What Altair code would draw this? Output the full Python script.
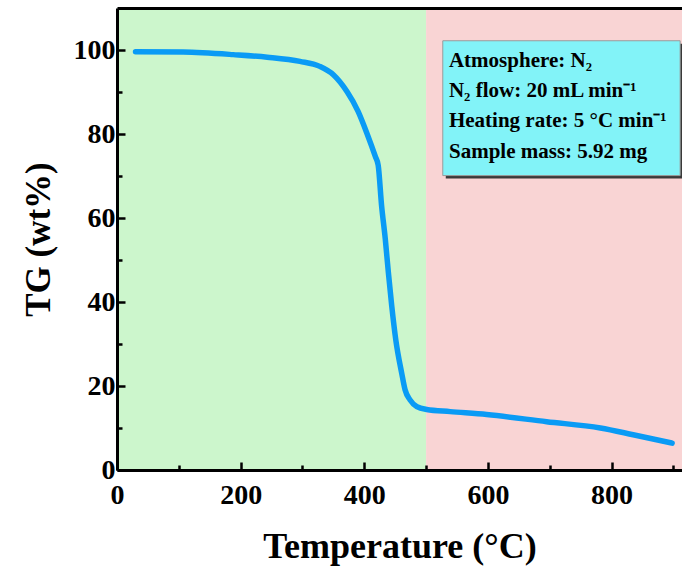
import altair as alt
import pandas as pd

# ---- data ----
temp = [30, 107, 188, 243, 296, 328, 350, 372, 390, 405, 418, 422.5, 428, 434, 439,
        444.5, 451, 460.5, 466, 474, 485, 501, 539, 598, 695, 782, 835, 898]
tg = [99.6, 99.5, 98.9, 98.3, 97.3, 96.1, 94.1, 90.1, 85.4, 79.9, 74.6, 72.6, 63.0,
      55.0, 47.0, 39.0, 31.0, 23.1, 19.1, 16.7, 15.1, 14.4, 13.9, 13.2, 11.5, 10.0, 8.4, 6.4]

region_start = [0, 500]
region_end = [500, 914]
region_color = ["#CCF6CC", "#F9D4D4"]

info_lines = ["Atmosphere: N\u2082",
              "N\u2082 flow: 20 mL min\u207b\u00b9",
              "Heating rate: 5 \u00b0C min\u207b\u00b9",
              "Sample mass: 5.92 mg"]
info_y = [97.4, 90.3, 83.1, 75.7]
info_x = [537, 537, 537, 537]
box_x = [527, 911]
box_y = [70.1, 102.2]

x_major = [0, 200, 400, 600, 800]
x_minor = [100, 300, 500, 700, 900]
y_major = [0, 20, 40, 60, 80, 100]
y_minor = [10, 30, 50, 70, 90]

FONT = "Liberation Serif"

curve = pd.DataFrame({"T": temp, "TG": tg})
regions = pd.DataFrame({"x0": region_start, "x1": region_end, "y0": [0, 0], "y1": [110, 110],
                        "c": region_color})
box = pd.DataFrame({"x0": [box_x[0]], "x1": [box_x[1]], "y0": [box_y[0]], "y1": [box_y[1]]})
info = pd.DataFrame({"x": info_x, "y": info_y, "t": info_lines})

xs = alt.Scale(domain=[0, 914], nice=False, zero=False)
ys = alt.Scale(domain=[0, 110], nice=False, zero=False)

x_axis = alt.Axis(values=x_major, tickSize={"expr": "-8"},
                  tickWidth=2.5, tickColor="black", domainWidth=3, domainColor="black",
                  labelFont=FONT, labelFontSize=28, labelFontWeight="bold", labelColor="black",
                  labelPadding=19, labelFlush=False,
                  title="Temperature (\u00b0C)", titleFont=FONT, titleFontSize=36,
                  titleFontWeight="bold", titleColor="black", titlePadding=20, grid=False,
                  orient="bottom", zindex=2)
x_axis_minor = alt.Axis(values=x_minor, tickSize={"expr": "-5"}, tickWidth=2.5,
                        tickColor="black", labels=False, domain=False, title=None,
                        grid=False, orient="bottom", zindex=2)
y_axis = alt.Axis(values=y_major, tickSize={"expr": "-8"},
                  tickWidth=2.5, tickColor="black", domainWidth=3, domainColor="black",
                  labelFont=FONT, labelFontSize=28, labelFontWeight="bold", labelColor="black",
                  labelPadding=10, labelFlush=False,
                  title="TG (wt%)", titleFont=FONT, titleFontSize=35,
                  titleFontWeight="bold", titleColor="black", titlePadding=17, grid=False,
                  orient="left", zindex=2)
y_axis_minor = alt.Axis(values=y_minor, tickSize={"expr": "-5"}, tickWidth=2.5,
                        tickColor="black", labels=False, domain=False, title=None,
                        grid=False, orient="left", zindex=2)
top_axis = alt.Axis(orient="top", labels=False, ticks=False, domainWidth=3,
                    domainColor="black", title=None, grid=False, zindex=2)

bg = alt.Chart(regions).mark_rect().encode(
    x=alt.X("x0:Q", scale=xs, axis=x_axis),
    x2="x1:Q",
    y=alt.Y("y0:Q", scale=ys, axis=y_axis),
    y2="y1:Q",
    color=alt.Color("c:N", scale=None),
)
minor_ticks = alt.Chart(regions).mark_rect(opacity=0).encode(
    x=alt.X("x0:Q", scale=xs, axis=x_axis_minor),
    x2="x1:Q",
    y=alt.Y("y0:Q", scale=ys, axis=y_axis_minor),
    y2="y1:Q",
)
frame_top = alt.Chart(regions).mark_rect(opacity=0).encode(
    x=alt.X("x0:Q", scale=xs, axis=top_axis),
    x2="x1:Q",
    y=alt.Y("y0:Q", scale=ys, axis=None),
    y2="y1:Q",
)
line = alt.Chart(curve).mark_line(color="#0A9BF5", strokeWidth=5.5, interpolate="monotone",
                                  strokeCap="round").encode(
    x=alt.X("T:Q", scale=xs, axis=None),
    y=alt.Y("TG:Q", scale=ys, axis=None),
)
shadow = alt.Chart(box).mark_rect(color="#3a3a3a", xOffset=3, x2Offset=3, yOffset=3,
                                  y2Offset=3).encode(
    x=alt.X("x0:Q", scale=xs, axis=None), x2="x1:Q",
    y=alt.Y("y0:Q", scale=ys, axis=None), y2="y1:Q",
)
panel = alt.Chart(box).mark_rect(color="#82F3F8", stroke="#9a9a9a", strokeWidth=1).encode(
    x=alt.X("x0:Q", scale=xs, axis=None), x2="x1:Q",
    y=alt.Y("y0:Q", scale=ys, axis=None), y2="y1:Q",
)
texts = alt.Chart(info).mark_text(align="left", baseline="middle", font=FONT, fontSize=21,
                                  fontWeight="bold", color="black").encode(
    x=alt.X("x:Q", scale=xs, axis=None),
    y=alt.Y("y:Q", scale=ys, axis=None),
    text="t:N",
)

chart = alt.layer(bg, minor_ticks, frame_top, line, shadow, panel, texts).resolve_axis(
    x="independent", y="independent"
).properties(
    width=565, height=462,
    autosize=alt.AutoSizeParams(type="none"),
    padding={"left": 117, "top": 8, "right": 0, "bottom": 101},
    background="white",
).configure_view(stroke=None)

chart.save("out.html", embed_options={"renderer": "svg", "actions": False})
